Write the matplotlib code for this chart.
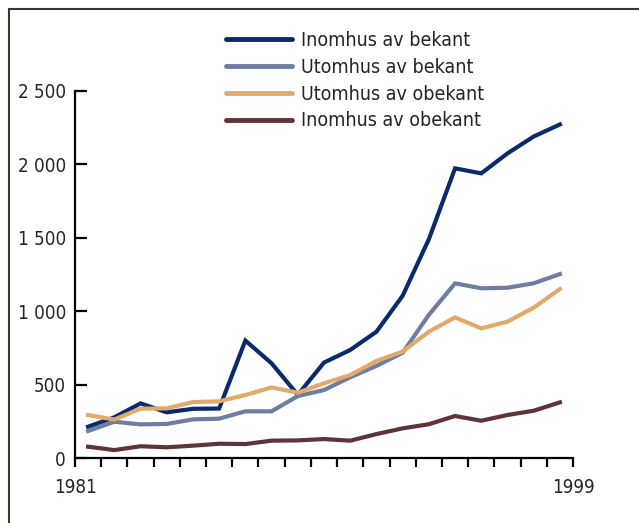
import matplotlib
matplotlib.use('Agg')
import matplotlib.pyplot as plt
from matplotlib.lines import Line2D

plt.rcParams['font.family'] = ['DejaVu Sans']
plt.rcParams['font.stretch'] = 'condensed'

# Data, 1981-1999
years = list(range(1981, 2000))
inomhus_bekant = [213, 277, 372, 311, 335, 337, 800, 645, 430, 650, 736, 860, 1105, 1490, 1973, 1939, 2075, 2190, 2272]
utomhus_bekant = [184, 247, 229, 232, 263, 268, 318, 318, 422, 463, 550, 627, 717, 975, 1190, 1156, 1160, 1190, 1253]
utomhus_obekant = [293, 262, 336, 338, 381, 386, 429, 481, 445, 509, 565, 661, 725, 860, 958, 883, 929, 1024, 1151]
inomhus_obekant = [77, 54, 80, 73, 84, 97, 95, 118, 120, 129, 118, 163, 202, 230, 286, 254, 293, 322, 379]

series_labels = ['Inomhus av bekant', 'Utomhus av bekant', 'Utomhus av obekant', 'Inomhus av obekant']
series_colors = ['#0b2a6c', '#6e7ea3', '#e0aa6a', '#5e343a']

ytick_vals = [0, 500, 1000, 1500, 2000, 2500]
ytick_labels = ['0', '500', '1 000', '1 500', '2 000', '2 500']

fig = plt.figure(figsize=(6.39, 5.23), dpi=100)
ax = fig.add_axes([75 / 639, 1 - 458 / 523, 498 / 639, 367 / 523])

xpos = [i + 0.5 for i in range(len(years))]
for vals, lab, col in zip([inomhus_bekant, utomhus_bekant, utomhus_obekant, inomhus_obekant],
                          series_labels, series_colors):
    ax.plot(xpos, vals, color=col, lw=3.0, label=lab, solid_joinstyle='miter')

ax.set_xlim(0, len(years))
ax.set_ylim(0, 2500)
ax.set_xticks(range(len(years) + 1))
ax.set_xticklabels([str(years[0])] + [''] * (len(years) - 1) + [str(years[-1])])
ax.set_yticks(ytick_vals)
ax.set_yticklabels(ytick_labels)

for s in ['top', 'right']:
    ax.spines[s].set_visible(False)
for s in ['left', 'bottom']:
    ax.spines[s].set_linewidth(1.6)
    ax.spines[s].set_color('black')

ax.tick_params(axis='x', direction='out', length=6.5, width=1.6, pad=8, labelsize=13.5, labelcolor='#2a2420')
ax.tick_params(axis='y', direction='in', length=8.5, width=1.6, pad=6.5, labelsize=13.5, labelcolor='#2a2420')

leg = fig.legend(loc='upper left', bbox_to_anchor=(226 / 639, 1 - 31 / 523), frameon=False,
                 fontsize=14, handlelength=3.4, handletextpad=0.45, labelspacing=0.4,
                 borderpad=0, borderaxespad=0)
for t in leg.get_texts():
    t.set_color('#2a2420')
for h in leg.legend_handles:
    h.set_linewidth(3.5)
    h.set_solid_capstyle('round')

# frame around the figure (top and left edges visible)
frame_col = '#3b3630'
fig.add_artist(Line2D([9 / 639, 1], [1 - 9 / 523, 1 - 9 / 523], color=frame_col, lw=1.5))
fig.add_artist(Line2D([9 / 639, 9 / 639], [0, 1 - 9 / 523], color=frame_col, lw=1.5))

plt.savefig('out.png', dpi=100)
